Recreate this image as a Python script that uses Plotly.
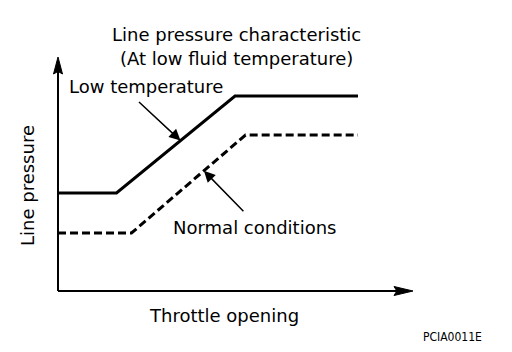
import numpy as np
import plotly.graph_objects as go

# ---- data (arbitrary units: throttle opening 0-100, line pressure) ----
throttle_low = [0, 19.5, 59, 100]
pressure_low = [49, 49, 97.5, 97.5]
throttle_norm = [0, 24.5, 62.5, 100]
pressure_norm = [29, 29, 78, 78]

title_lines = ["Line pressure characteristic", "(At low fluid temperature)"]
label_low = "Low temperature"
label_norm = "Normal conditions"
x_title = "Throttle opening"
y_title = "Line pressure"
code_text = "PCIA0011E"

W, H = 512, 352
# pixel mapping: origin at px (58, 291); 3 px per x-unit, 2 px per y-unit
X0PX, Y0PX, SX, SY = 58, 291, 3.0, 2.0
x_range = [-X0PX / SX, (W - X0PX) / SX]
y_range = [(Y0PX - H) / SY, Y0PX / SY]

def px(xp):
    return xp / W

def py(yp):
    return 1 - yp / H

FONT = "DejaVu Sans, Liberation Sans, Arial, sans-serif"
fig = go.Figure()

fig.add_trace(go.Scatter(x=throttle_low, y=pressure_low, mode="lines",
                         line=dict(color="black", width=3), hoverinfo="skip"))
fig.add_trace(go.Scatter(x=throttle_norm, y=pressure_norm, mode="lines",
                         line=dict(color="black", width=3, dash="8px,4px"),
                         hoverinfo="skip"))

# axes lines
x_end = (413 - X0PX) / SX
y_end = (Y0PX - 57) / SY
fig.add_shape(type="line", x0=0, y0=0, x1=x_end - 4, y1=0,
              line=dict(color="black", width=2))
fig.add_shape(type="line", x0=0, y0=0, x1=0, y1=y_end - 6,
              line=dict(color="black", width=2))
# arrow heads of axes
hx_len, hx_w = 19 / SX, 4.5 / SY
fig.add_shape(type="path",
              path=f"M{x_end},0 L{x_end - hx_len},{hx_w} L{x_end - hx_len * 0.85},0 L{x_end - hx_len},{-hx_w} Z",
              fillcolor="black", line=dict(color="black", width=1))
hy_len, hy_w = 17 / SY, 4.5 / SX
fig.add_shape(type="path",
              path=f"M0,{y_end} L{hy_w},{y_end - hy_len} L0,{y_end - hy_len * 0.85} L{-hy_w},{y_end - hy_len} Z",
              fillcolor="black", line=dict(color="black", width=1))

# pointer arrows (tips on the curves)
def point_on(xs, ys, t):
    x = xs[1] + t * (xs[2] - xs[1])
    return x, float(np.interp(x, xs, ys))

tx, ty = point_on(throttle_low, pressure_low, 0.54)
fig.add_annotation(x=tx, y=ty, xref="x", yref="y", text="", showarrow=True,
                   ax=-43, ay=-40, arrowhead=2, arrowsize=1.5, arrowwidth=1.5,
                   arrowcolor="black", standoff=0)
tx, ty = point_on(throttle_norm, pressure_norm, 0.635)
fig.add_annotation(x=tx, y=ty, xref="x", yref="y", text="", showarrow=True,
                   ax=41, ay=42, arrowhead=2, arrowsize=1.5, arrowwidth=1.5,
                   arrowcolor="black", standoff=0)

def txt(s, x, y, size=18, xanchor="center", yanchor="middle", angle=0, family=FONT):
    fig.add_annotation(text=s, x=px(x), y=py(y), xref="paper", yref="paper",
                       showarrow=False, xanchor=xanchor, yanchor=yanchor,
                       textangle=angle, font=dict(family=family, size=size, color="black"))

txt(title_lines[0], 236, 35)
txt(title_lines[1], 236, 58)
txt(label_low, 67, 86, xanchor="left")
txt(label_norm, 171, 227, xanchor="left")
txt(x_title, 224, 315)
txt(y_title, 27, 186, angle=-90)
txt(code_text, 484, 337, size=12, xanchor="right",
    family="Liberation Sans Narrow, Arial Narrow, DejaVu Sans Condensed, sans-serif")

fig.update_layout(width=W, height=H, margin=dict(l=0, r=0, t=0, b=0),
                  paper_bgcolor="white", plot_bgcolor="white", showlegend=False,
                  xaxis=dict(range=x_range, visible=False, fixedrange=True),
                  yaxis=dict(range=y_range, visible=False, fixedrange=True))

fig.write_html("out.html", config={"displayModeBar": False})
